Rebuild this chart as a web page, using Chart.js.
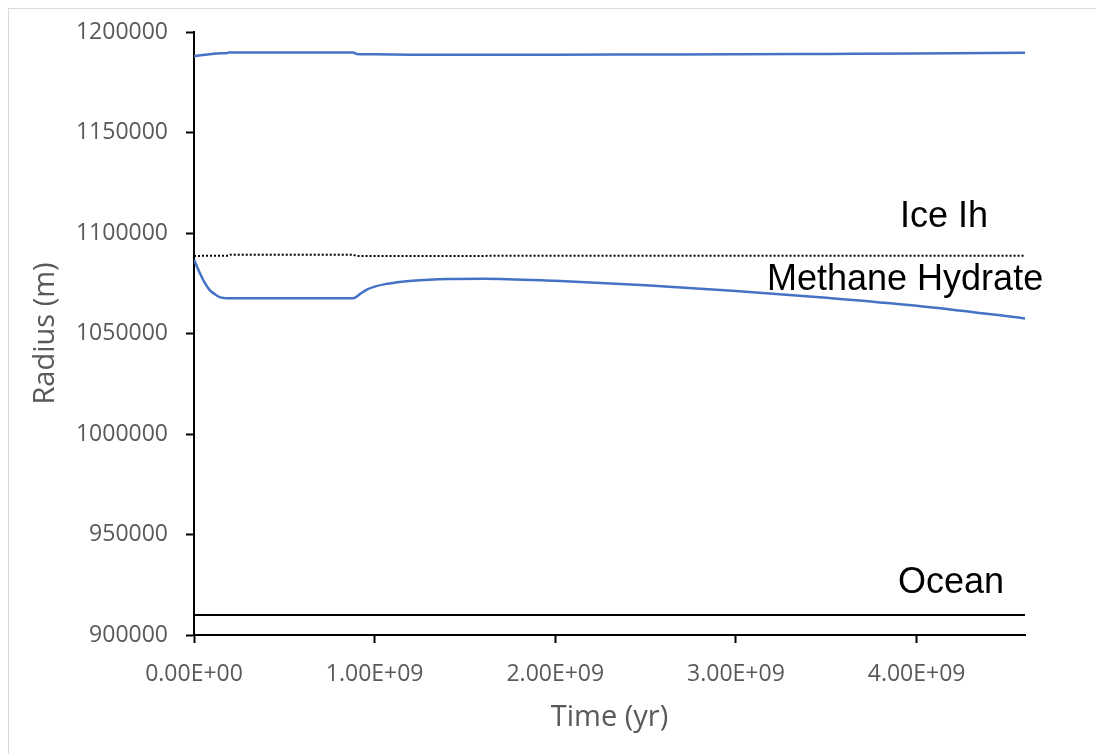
<!DOCTYPE html>
<html>
<head>
<meta charset="utf-8">
<script src="https://cdn.jsdelivr.net/npm/chart.js@4.4.1/dist/chart.umd.min.js"></script>
<style>
  html, body { margin: 0; padding: 0; background: #fff; overflow: hidden; }
  #frame { position: absolute; left: 8px; top: 8px; width: 1200px; height: 900px; border: 1.5px solid #dadada; }
  #radiusChart { position: absolute; left: 0; top: 0; }
</style>
</head>
<body>
<div id="frame"></div>
<canvas id="radiusChart" width="1096" height="754"></canvas>
<script>
// Outer surface of the ice shell
const timeTop = [0, 0.05e9, 0.1e9, 0.15e9, 0.185e9, 0.19e9, 0.88e9, 0.9e9, 1.0e9, 1.2e9, 1.5e9, 2.0e9, 2.5e9, 3.0e9, 3.5e9, 4.0e9, 4.6e9];
const radiusTop = [1187900, 1188600, 1189100, 1189400, 1189500, 1189850, 1189850, 1189100, 1188900, 1188700, 1188650, 1188700, 1188800, 1188900, 1189100, 1189300, 1189700];

// Ice Ih / methane hydrate boundary (dotted)
const timeBoundary = [0, 0.19e9, 0.2e9, 0.88e9, 0.9e9, 4.6e9];
const radiusBoundary = [1088600, 1088700, 1089200, 1089200, 1088600, 1088700];

// Bottom of methane hydrate layer
const timeHydrate = [0, 0.033e9, 0.059e9, 0.087e9, 0.115e9, 0.142e9, 0.17e9, 0.2e9, 0.88e9, 0.92e9, 0.954e9, 1.0e9, 1.065e9, 1.15e9, 1.21e9, 1.3e9, 1.4e9, 1.6e9, 2.0e9, 2.5e9, 3.0e9, 3.5e9, 4.0e9, 4.6e9];
const radiusHydrate = [1086800, 1080000, 1075300, 1071600, 1069600, 1068100, 1067600, 1067500, 1067500, 1069700, 1071700, 1073300, 1074700, 1075800, 1076300, 1076800, 1077150, 1077300, 1076200, 1074000, 1071200, 1067800, 1063800, 1057500];

// Ocean
const timeOcean = [0, 4.6e9];
const radiusOcean = [910000, 910000];

const xTickValues = [0, 1e9, 2e9, 3e9, 4e9];
const layerNames = ['Ice Ih', 'Methane Hydrate', 'Ocean'];

function pts(xs, ys) {
  return xs.map((x, i) => ({ x: x, y: ys[i] }));
}

function sci(v) {
  const parts = v.toExponential(2).split('e');
  const n = parseInt(parts[1], 10);
  return parts[0] + 'E' + (n < 0 ? '-' : '+') + String(Math.abs(n)).padStart(2, '0');
}

const blue = '#4472C4';
const tickFont = { family: 'Open Sans', size: 23 };
const titleFont = { family: 'Open Sans', size: 29 };

// layer names written inside the plot
const layerLabels = {
  id: 'layerLabels',
  afterDatasetsDraw(chart) {
    const ctx = chart.ctx;
    ctx.save();
    ctx.font = '36px "Liberation Sans", Arial, sans-serif';
    ctx.fillStyle = '#000';
    ctx.textAlign = 'left';
    ctx.textBaseline = 'alphabetic';
    ctx.fillText(layerNames[0], 900, 227);
    ctx.fillText(layerNames[1], 767, 290);
    ctx.fillText(layerNames[2], 898, 593);
    ctx.restore();
  }
};

new Chart(document.getElementById('radiusChart'), {
  type: 'line',
  data: {
    datasets: [
      { data: pts(timeTop, radiusTop), borderColor: blue, borderWidth: 2.5, cubicInterpolationMode: 'monotone' },
      { data: pts(timeBoundary, radiusBoundary), borderColor: '#000', borderWidth: 2, borderDash: [2, 2], tension: 0 },
      { data: pts(timeHydrate, radiusHydrate), borderColor: blue, borderWidth: 2.5, cubicInterpolationMode: 'monotone' },
      { data: pts(timeOcean, radiusOcean), borderColor: '#000', borderWidth: 2, tension: 0 }
    ]
  },
  options: {
    responsive: false,
    animation: false,
    layout: { padding: { top: 32, right: 71, left: 0, bottom: 0 } },
    elements: { point: { radius: 0 } },
    plugins: {
      legend: { display: false },
      tooltip: { enabled: false }
    },
    scales: {
      x: {
        type: 'linear',
        min: 0,
        max: 4.6e9,
        afterFit: s => { s.height = 119; },
        afterBuildTicks: s => { s.ticks = xTickValues.map(v => ({ value: v })); },
        border: { color: '#000', width: 2 },
        grid: { drawOnChartArea: false, drawTicks: true, tickLength: 8, tickWidth: 2, tickColor: '#000' },
        ticks: {
          maxRotation: 0,
          autoSkip: false,
          padding: 18,
          color: '#595959',
          font: tickFont,
          callback: v => sci(v)
        },
        title: { display: true, text: 'Time (yr)', color: '#595959', font: titleFont, padding: { top: 0, bottom: 19 } }
      },
      y: {
        min: 900000,
        max: 1200000,
        afterFit: s => { s.width = 194; },
        border: { color: '#000', width: 2 },
        grid: { drawOnChartArea: false, drawTicks: true, tickLength: 8, tickWidth: 2, tickColor: '#000' },
        ticks: {
          stepSize: 50000,
          padding: 18,
          color: '#595959',
          font: tickFont,
          callback: v => String(v)
        },
        title: { display: true, text: 'Radius (m)', color: '#595959', font: titleFont, padding: { top: 28, bottom: 0 } }
      }
    }
  },
  plugins: [layerLabels]
});
</script>
</body>
</html>
